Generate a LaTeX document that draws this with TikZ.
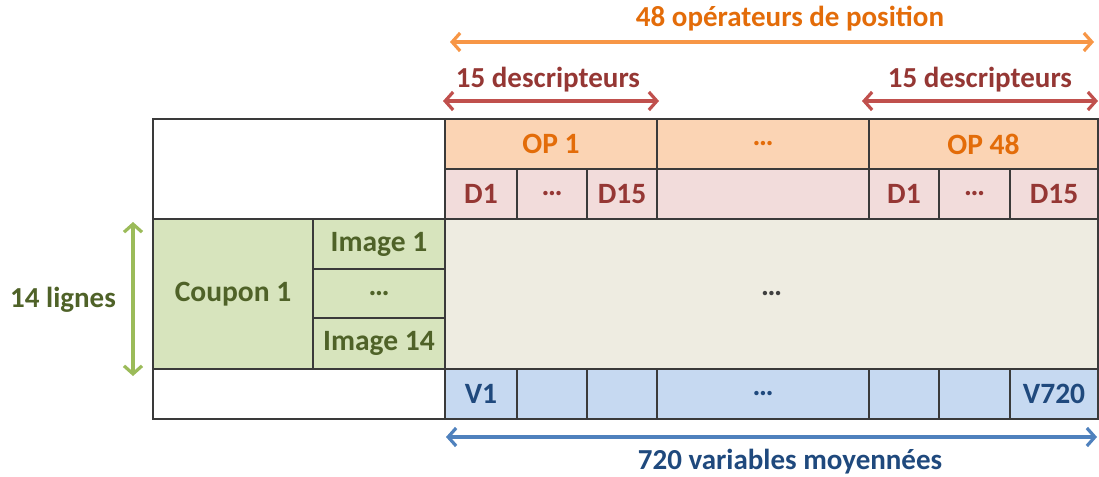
\documentclass[tikz,border=0pt]{standalone}
\usepackage{fontspec}
\setmainfont{Carlito}
\usetikzlibrary{arrows.meta}
\definecolor{bordc}{HTML}{3A3A3A}
\definecolor{opfill}{HTML}{FBD4B4}
\definecolor{optext}{HTML}{E36C09}
\definecolor{dfill}{HTML}{F2DCDB}
\definecolor{dtext}{HTML}{953734}
\definecolor{gfill}{HTML}{D7E4BD}
\definecolor{gtext}{HTML}{4F6228}
\definecolor{bgfill}{HTML}{EEECE1}
\definecolor{vfill}{HTML}{C6D9F1}
\definecolor{vtext}{HTML}{1F497D}
\definecolor{arrO}{HTML}{F79646}
\definecolor{arrR}{HTML}{C0504D}
\definecolor{arrG}{HTML}{9BBB59}
\definecolor{arrB}{HTML}{4F81BD}
\newcommand\cellbox[7]{%
  \node[cellst,#6,minimum width={(#4-#2)*1pt},minimum height={(#5-#3)*1pt}] (#1) at ({(#2+#4)/2},{(#3+#5)/2}) {#7};}
\begin{document}
\begin{tikzpicture}[x=1pt,y=-1pt,
  cellst/.style={draw=bordc,line width=1.2pt,inner sep=0pt,outer sep=0pt,font=\fontsize{29.5}{32}\bfseries\selectfont},
  opc/.style={fill=opfill,text=optext},
  dc/.style={fill=dfill,text=dtext},
  gc/.style={fill=gfill,text=gtext},
  bgc/.style={fill=bgfill,text=black!75},
  vc/.style={fill=vfill,text=vtext},
  wc/.style={fill=white},
  dim/.style={line width=3.4pt,{Straight Barb[length=8pt,width=18pt,line width=3.2pt]}-{Straight Barb[length=8pt,width=18pt,line width=3.2pt]}},
  lbl/.style={font=\fontsize{29}{32}\bfseries\selectfont,inner sep=0pt}]
\useasboundingbox (0,0) rectangle (1099,476);
% header
\cellbox{blankTop}{153}{119}{445}{219}{wc}{}
\cellbox{op1}{445}{119}{657}{169}{opc}{OP 1}
\cellbox{opdots}{657}{119}{869}{169}{opc}{…}
\cellbox{op48}{869}{119}{1098}{169}{opc}{OP 48}
\cellbox{d1a}{445}{169}{517}{219}{dc}{D1}
\cellbox{dda}{517}{169}{587}{219}{dc}{…}
\cellbox{d15a}{587}{169}{657}{219}{dc}{D15}
\cellbox{dmid}{657}{169}{869}{219}{dc}{}
\cellbox{d1b}{869}{169}{939}{219}{dc}{D1}
\cellbox{ddb}{939}{169}{1010}{219}{dc}{…}
\cellbox{d15b}{1010}{169}{1098}{219}{dc}{D15}
% body
\cellbox{coupon}{153}{219}{313}{369}{gc}{Coupon 1}
\cellbox{img1}{313}{219}{445}{269}{gc}{Image 1}
\cellbox{imgd}{313}{269}{445}{318}{gc}{…}
\cellbox{img14}{313}{318}{445}{369}{gc}{Image 14}
\cellbox{data}{445}{219}{1098}{369}{bgc}{…}
% bottom
\cellbox{blankBot}{153}{369}{445}{419}{wc}{}
\cellbox{v1}{445}{369}{517}{419}{vc}{V1}
\cellbox{v2}{517}{369}{587}{419}{vc}{}
\cellbox{v3}{587}{369}{657}{419}{vc}{}
\cellbox{vd}{657}{369}{869}{419}{vc}{…}
\cellbox{v4}{869}{369}{939}{419}{vc}{}
\cellbox{v5}{939}{369}{1010}{419}{vc}{}
\cellbox{v720}{1010}{369}{1098}{419}{vc}{V720}
% arrow end points
\coordinate (oL) at (450,42);
\coordinate (oR) at (1094,42);
\coordinate (r1L) at (443,101);
\coordinate (r1R) at (659,101);
\coordinate (r2L) at (862,101);
\coordinate (r2R) at (1098,101);
\coordinate (gT) at (133,222);
\coordinate (gB) at (133,376);
\coordinate (bL) at (446,437);
\coordinate (bR) at (1097,437);
\draw[dim,arrO] (oL) -- (oR);
\draw[dim,arrR] (r1L) -- (r1R);
\draw[dim,arrR] (r2L) -- (r2R);
\draw[dim,arrG] (gT) -- (gB);
\draw[dim,arrB] (bL) -- (bR);
\node[lbl,text=optext] (tOp) at (790,19) {48 opérateurs de position};
\node[lbl,text=dtext] (tD1) at (548,80) {15 descripteurs};
\node[lbl,text=dtext] (tD2) at (980,80) {15 descripteurs};
\node[lbl,text=gtext] (tL) at (63,300) {14 lignes};
\node[lbl,text=vtext] (tV) at (790,462) {720 variables moyennées};
\end{tikzpicture}
\end{document}
